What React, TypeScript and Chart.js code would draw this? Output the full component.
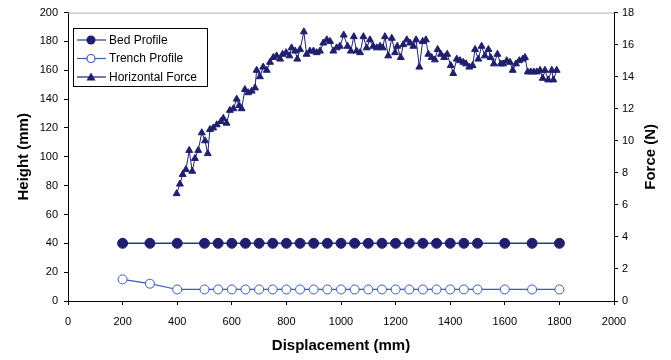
import React, { useEffect, useRef } from "react";
import { Chart, registerables } from "chart.js";

Chart.register(...registerables);

// Bed / trench profile stations (mm) and heights (mm)
const profileX = [200, 300, 400, 500, 550, 600, 650, 700, 750, 800, 850, 900, 950, 1000, 1050, 1100, 1150, 1200, 1250, 1300, 1350, 1400, 1450, 1500, 1600, 1700, 1800];
const bedHeight = [40, 40, 40, 40, 40, 40, 40, 40, 40, 40, 40, 40, 40, 40, 40, 40, 40, 40, 40, 40, 40, 40, 40, 40, 40, 40, 40];
const trenchHeight = [15, 12, 8, 8, 8, 8, 8, 8, 8, 8, 8, 8, 8, 8, 8, 8, 8, 8, 8, 8, 8, 8, 8, 8, 8, 8, 8];

// Horizontal force samples: displacement (mm) and force (N)
const forceX = [398, 410, 420, 432, 444, 455, 465, 477, 490, 502, 512, 520, 532, 545, 560, 569, 581, 593, 606, 618, 627, 636, 648, 660, 673, 685, 691, 703, 715, 728, 740, 752, 764, 777, 786, 799, 811, 819, 832, 840, 850, 864, 874, 886, 899, 911, 923, 935, 948, 960, 972, 984, 996, 1010, 1024, 1036, 1047, 1057, 1070, 1082, 1094, 1106, 1118, 1131, 1143, 1153, 1161, 1173, 1186, 1198, 1206, 1219, 1228, 1241, 1253, 1265, 1275, 1287, 1299, 1311, 1320, 1332, 1344, 1354, 1366, 1378, 1389, 1402, 1411, 1424, 1436, 1448, 1458, 1470, 1482, 1491, 1503, 1515, 1527, 1540, 1548, 1560, 1573, 1585, 1594, 1607, 1619, 1629, 1641, 1653, 1666, 1674, 1684, 1695, 1706, 1717, 1729, 1739, 1747, 1759, 1772, 1778, 1790];
const forceN = [6.7, 7.3, 7.9, 8.2, 9.4, 8.1, 8.9, 9.4, 10.5, 10.0, 9.2, 10.7, 10.8, 11.0, 11.2, 11.4, 11.1, 11.9, 12.0, 12.6, 12.2, 12.0, 13.2, 13.0, 13.1, 13.3, 14.4, 14.0, 14.6, 14.4, 14.9, 15.2, 15.3, 15.1, 15.4, 15.5, 15.3, 15.8, 15.6, 15.1, 15.7, 16.8, 15.4, 15.6, 15.6, 15.5, 15.6, 16.1, 16.3, 16.2, 15.6, 15.8, 15.9, 16.6, 15.9, 15.6, 16.5, 15.6, 15.5, 16.5, 15.8, 16.3, 15.9, 15.8, 15.9, 15.8, 16.5, 15.3, 16.4, 15.5, 15.9, 15.2, 16.0, 16.3, 16.1, 15.9, 16.3, 14.6, 16.2, 16.3, 15.4, 15.2, 15.05, 15.7, 15.4, 15.2, 15.4, 14.7, 14.2, 15.1, 15.0, 14.9, 14.8, 14.6, 14.7, 15.7, 15.1, 15.9, 15.3, 15.7, 15.2, 14.8, 15.4, 14.8, 14.8, 15.0, 14.9, 14.4, 14.8, 15.0, 15.1, 15.2, 14.3, 14.3, 14.3, 14.3, 14.4, 13.9, 14.4, 13.8, 14.4, 13.8, 14.4];

const seriesNames = ["Bed Profile", "Trench Profile", "Horizontal Force"];

const NAVY = "#1f1f6e";
const BED_LINE = "#283a8c";
const TRENCH = "#3a5cb8";
const FONT = "Liberation Sans, Arial, sans-serif";

const overlayPlugin = {
  id: "overlay",
  afterDraw(chart: any) {
    const ctx = chart.ctx;
    const ca = chart.chartArea;
    ctx.save();
    // top border of plot area
    ctx.strokeStyle = "#b0b0b0";
    ctx.lineWidth = 1;
    ctx.beginPath();
    ctx.moveTo(ca.left, ca.top + 0.5);
    ctx.lineTo(ca.right, ca.top + 0.5);
    ctx.stroke();

    // right axis title (reads bottom-to-top)
    ctx.fillStyle = "#000";
    ctx.font = `bold 15px ${FONT}`;
    ctx.textAlign = "center";
    ctx.textBaseline = "middle";
    ctx.translate(651, (ca.top + ca.bottom) / 2);
    ctx.rotate(-Math.PI / 2);
    ctx.fillText("Force (N)", 0, 0);
    ctx.restore();

    // legend
    ctx.save();
    const bx = 73.5, by = 28.5, bw = 134, bh = 58;
    ctx.fillStyle = "#fff";
    ctx.fillRect(bx, by, bw, bh);
    ctx.strokeStyle = "#000";
    ctx.lineWidth = 1;
    ctx.strokeRect(bx, by, bw, bh);
    const rows = [40, 58.5, 77];
    const lx0 = 77, lx1 = 106, mx = 91;
    ctx.font = `12px ${FONT}`;
    ctx.textAlign = "left";
    ctx.textBaseline = "middle";
    rows.forEach((ry, i) => {
      ctx.beginPath();
      ctx.strokeStyle = i === 0 ? BED_LINE : i === 1 ? TRENCH : NAVY;
      ctx.lineWidth = 1.2;
      ctx.moveTo(lx0, ry);
      ctx.lineTo(lx1, ry);
      ctx.stroke();
      if (i === 0) {
        ctx.beginPath();
        ctx.fillStyle = NAVY;
        ctx.arc(mx, ry, 4.5, 0, Math.PI * 2);
        ctx.fill();
      } else if (i === 1) {
        ctx.beginPath();
        ctx.fillStyle = "#fff";
        ctx.strokeStyle = TRENCH;
        ctx.arc(mx, ry, 4, 0, Math.PI * 2);
        ctx.fill();
        ctx.stroke();
      } else {
        ctx.beginPath();
        ctx.fillStyle = NAVY;
        ctx.moveTo(mx, ry - 4.5);
        ctx.lineTo(mx + 4.5, ry + 3.5);
        ctx.lineTo(mx - 4.5, ry + 3.5);
        ctx.closePath();
        ctx.fill();
      }
      ctx.fillStyle = "#000";
      ctx.fillText(seriesNames[i], 109, ry + 0.5);
    });
    ctx.restore();
  },
};

export default function App() {
  const ref = useRef<HTMLCanvasElement | null>(null);

  useEffect(() => {
    document.body.style.margin = "0";
    const canvas = ref.current;
    if (!canvas) return;
    const bed = profileX.map((x, i) => ({ x, y: bedHeight[i] }));
    const trench = profileX.map((x, i) => ({ x, y: trenchHeight[i] }));
    const force = forceX.map((x, i) => ({ x, y: forceN[i] }));

    const tickFont = { family: FONT, size: 11 };
    const plain = (v: any) => String(v);
    const chart = new Chart(canvas, {
      type: "line",
      data: {
        datasets: [
          {
            label: seriesNames[0],
            data: bed,
            yAxisID: "y",
            borderColor: BED_LINE,
            borderWidth: 1.5,
            pointStyle: "circle",
            pointRadius: 5,
            pointBackgroundColor: NAVY,
            pointBorderColor: NAVY,
            pointBorderWidth: 1,
            tension: 0,
          },
          {
            label: seriesNames[1],
            data: trench,
            yAxisID: "y",
            borderColor: TRENCH,
            borderWidth: 1.2,
            pointStyle: "circle",
            pointRadius: 4.5,
            pointBackgroundColor: "#fff",
            pointBorderColor: TRENCH,
            pointBorderWidth: 1,
            tension: 0,
          },
          {
            label: seriesNames[2],
            data: force,
            yAxisID: "y1",
            borderColor: NAVY,
            borderWidth: 1,
            pointStyle: "triangle",
            pointRadius: 4,
            pointBackgroundColor: NAVY,
            pointBorderColor: NAVY,
            pointBorderWidth: 1,
            tension: 0,
          },
        ],
      },
      options: {
        animation: false,
        responsive: false,
        maintainAspectRatio: false,
        layout: { padding: { top: 8, left: 0, right: 0, bottom: 0 } },
        plugins: { legend: { display: false }, tooltip: { enabled: false } },
        scales: {
          x: {
            type: "linear",
            min: 0,
            max: 2000,
            ticks: { stepSize: 200, color: "#000", font: tickFont, padding: 10, maxRotation: 0, callback: plain },
            grid: { display: true, drawOnChartArea: false, tickLength: 4, color: "#000" },
            border: { display: true, color: "#000", width: 1 },
            title: {
              display: true,
              text: "Displacement (mm)",
              color: "#000",
              font: { family: FONT, size: 15, weight: "bold" },
              padding: { top: 0, bottom: 5 },
            },
            afterFit: (s: any) => {
              s.height = 59;
            },
          },
          y: {
            type: "linear",
            position: "left",
            min: 0,
            max: 200,
            ticks: { stepSize: 20, color: "#000", font: tickFont, padding: 6, callback: plain },
            grid: { display: true, drawOnChartArea: false, tickLength: 4, color: "#000" },
            border: { display: true, color: "#000", width: 1 },
            title: {
              display: true,
              text: "Height (mm)",
              color: "#000",
              font: { family: FONT, size: 15, weight: "bold" },
              padding: { top: 15, bottom: 0 },
            },
            afterFit: (s: any) => {
              s.width = 68;
            },
          },
          y1: {
            type: "linear",
            position: "right",
            min: 0,
            max: 18,
            ticks: { stepSize: 2, color: "#000", font: tickFont, padding: 4, callback: plain },
            grid: { display: true, drawOnChartArea: false, tickLength: 4, color: "#000" },
            border: { display: true, color: "#000", width: 1 },
            afterFit: (s: any) => {
              s.width = 57;
            },
          },
        },
      },
      plugins: [overlayPlugin],
    } as any);
    return () => chart.destroy();
  }, []);

  return (
    <div style={{ width: 671, height: 360, background: "#fff" }}>
      <canvas ref={ref} width={671} height={360} style={{ display: "block", width: 671, height: 360 }} />
    </div>
  );
}
